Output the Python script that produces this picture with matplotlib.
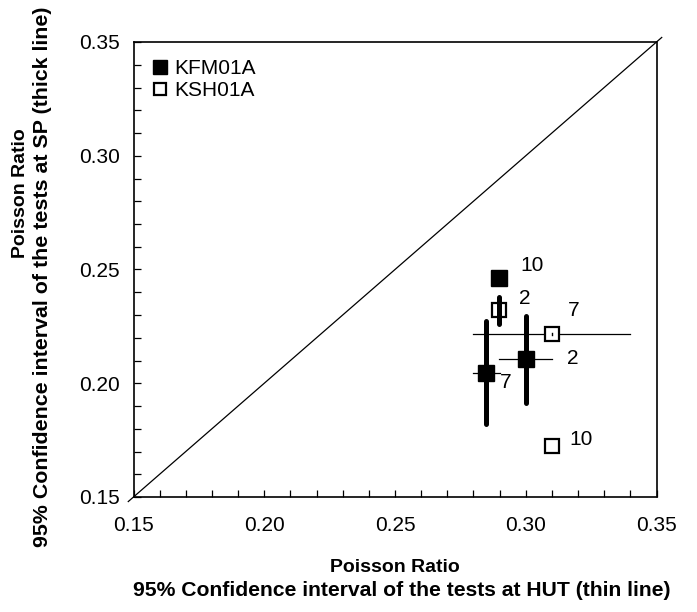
import matplotlib
matplotlib.use("Agg")
import matplotlib.pyplot as plt
from matplotlib.ticker import MultipleLocator, FormatStrFormatter

plt.rcParams['font.family'] = ['Liberation Sans', 'DejaVu Sans']

# KFM01A (filled squares)
kfm_labels = ["10", "2", "7"]
kfm_x = [0.2899, 0.3000, 0.2848]
kfm_y = [0.2461, 0.2107, 0.2046]
kfm_hut_lo = [0.2899, 0.2899, 0.2797]
kfm_hut_hi = [0.2899, 0.3099, 0.2902]
kfm_sp_lo = [0.2461, 0.1912, 0.1821]
kfm_sp_hi = [0.2461, 0.2297, 0.2274]

# KSH01A (open squares)
ksh_labels = ["2", "7", "10"]
ksh_x = [0.2899, 0.3099, 0.3099]
ksh_y = [0.2322, 0.2215, 0.1724]
ksh_hut_lo = [0.2899, 0.2797, 0.3099]
ksh_hut_hi = [0.2899, 0.3400, 0.3099]
ksh_sp_lo = [0.2260, 0.2210, 0.1724]
ksh_sp_hi = [0.2380, 0.2220, 0.1724]

# label offsets in points (style)
kfm_off = [(15, 9), (30, 0), (10, -7)]
ksh_off = [(14, 8), (12, 17), (13, 5)]

W, H = 697, 612
fig = plt.figure(figsize=(W / 100, H / 100), dpi=100)
ax = fig.add_axes([133.5 / W, (H - 497) / H, 523 / W, 455 / H])

lo, hi = 0.15, 0.35
ax.set_xlim(lo, hi)
ax.set_ylim(lo, hi)

# 1:1 line extending slightly past the axes
ax.plot([0.148, 0.352], [0.148, 0.352], color='black', lw=0.9, clip_on=False, zorder=1)

# thin horizontal HUT intervals
for xl, xh, y in zip(kfm_hut_lo + ksh_hut_lo, kfm_hut_hi + ksh_hut_hi, kfm_y + ksh_y):
    if xh > xl:
        ax.plot([xl, xh], [y, y], color='black', lw=0.9, zorder=2)

# thick vertical SP intervals for KFM01A (under markers)
for x, yl, yh in zip(kfm_x, kfm_sp_lo, kfm_sp_hi):
    if yh > yl:
        ax.plot([x, x], [yl, yh], color='black', lw=3.6, solid_capstyle='round', zorder=2)

ax.plot(kfm_x, kfm_y, linestyle='none', marker='s', ms=11, mfc='black', mec='black',
        zorder=3, label='KFM01A')
ax.plot(ksh_x, ksh_y, linestyle='none', marker='s', ms=10, mfc='white', mec='black',
        mew=1.6, zorder=3, label='KSH01A')

# thick SP intervals for KSH01A drawn above the open squares
for x, yl, yh in zip(ksh_x, ksh_sp_lo, ksh_sp_hi):
    if yh - yl > 0.005:
        ax.plot([x, x], [yl, yh], color='black', lw=3.6, solid_capstyle='round', zorder=4)
    elif yh > yl:
        ax.plot([x, x], [yl, yh], color='black', lw=1.0, zorder=4)

for lab, x, y, off in zip(kfm_labels, kfm_x, kfm_y, kfm_off):
    ax.annotate(lab, (x, y), xytext=off, textcoords='offset points', fontsize=15,
                ha='left', va='center')
for lab, x, y, off in zip(ksh_labels, ksh_x, ksh_y, ksh_off):
    ax.annotate(lab, (x, y), xytext=off, textcoords='offset points', fontsize=15,
                ha='left', va='center')

ax.xaxis.set_major_locator(MultipleLocator(0.05))
ax.yaxis.set_major_locator(MultipleLocator(0.05))
ax.xaxis.set_minor_locator(MultipleLocator(0.01))
ax.yaxis.set_minor_locator(MultipleLocator(0.01))
ax.xaxis.set_major_formatter(FormatStrFormatter('%.2f'))
ax.yaxis.set_major_formatter(FormatStrFormatter('%.2f'))
ax.tick_params(which='both', direction='in', length=5, width=0.9, labelsize=15,
               top=False, right=False)
ax.tick_params(axis='x', which='major', pad=14)
ax.tick_params(axis='y', which='major', pad=10)

for s in ax.spines.values():
    s.set_linewidth(1.2)

# axis titles (two lines each, placed in figure pixels)
def px(x, y):
    return x / W, 1 - y / H

fig.text(*px(395, 567), 'Poisson Ratio', fontsize=14, fontweight='bold',
         ha='center', va='center')
fig.text(*px(402, 590), '95% Confidence interval of the tests at HUT (thin line)',
         fontsize=15.2, fontweight='bold', ha='center', va='center')
fig.text(*px(21, 193), 'Poisson Ratio', fontsize=14, fontweight='bold',
         ha='center', va='center', rotation=90)
fig.text(*px(43, 277), '95% Confidence interval of the tests at SP (thick line)',
         fontsize=15.4, fontweight='bold', ha='center', va='center', rotation=90)

leg = ax.legend(loc='upper left', bbox_to_anchor=(0.01, 0.995), frameon=False,
                fontsize=15, handlelength=0.6, handletextpad=0.4, borderaxespad=0.3,
                labelspacing=0.15, markerscale=0.9, borderpad=0.4)

fig.savefig('out.png', dpi=100)
